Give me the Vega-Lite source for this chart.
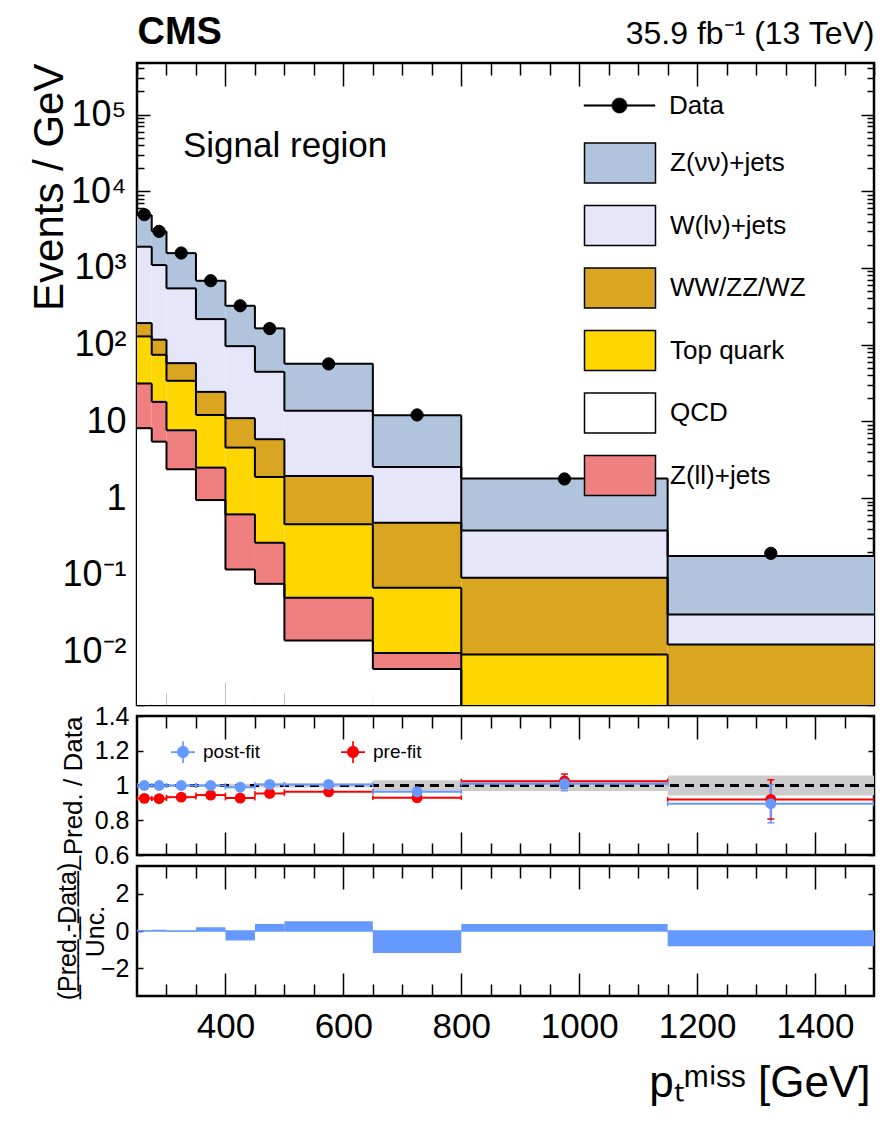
{
  "$schema": "https://vega.github.io/schema/vega-lite/v6.json",
  "background": "white",
  "autosize": {"type": "pad"},
  "padding": {"left": 26, "top": 11, "right": 20, "bottom": 20},
  "spacing": 11,
  "bounds": "flush",
  "resolve": {
    "scale": {"fill": "independent", "stroke": "independent"},
    "legend": {"fill": "independent", "stroke": "independent"}
  },
  "config": {
    "font": "Liberation Sans",
    "view": {"stroke": "black", "strokeWidth": 2.5},
    "axis": {
      "domain": false, "grid": false, "zindex": 1,
      "tickColor": "black", "tickWidth": 1.5,
      "labelColor": "black", "titleColor": "black",
      "labelFont": "Liberation Sans", "titleFont": "Liberation Sans",
      "titleFontWeight": "normal", "labelOverlap": false,
      "labelFlush": false, "labelBound": false, "labelLimit": 500
    },
    "legend": {"labelFont": "Liberation Sans", "labelColor": "black"}
  },
  "datasets": {
    "stack": [
      {"lo": 250, "hi": 275, "process": "Z(νν)+jets", "events": 3010},
      {"lo": 250, "hi": 275, "process": "W(lν)+jets", "events": 1699},
      {"lo": 250, "hi": 275, "process": "WW/ZZ/WZ", "events": 63},
      {"lo": 250, "hi": 275, "process": "Top quark", "events": 96.9},
      {"lo": 250, "hi": 275, "process": "Z(ll)+jets", "events": 23.0},
      {"lo": 250, "hi": 275, "process": "QCD", "events": 8.13},
      {"lo": 275, "hi": 300, "process": "Z(νν)+jets", "events": 1910},
      {"lo": 275, "hi": 300, "process": "W(lν)+jets", "events": 974},
      {"lo": 275, "hi": 300, "process": "WW/ZZ/WZ", "events": 42.4},
      {"lo": 275, "hi": 300, "process": "Top quark", "events": 55.7},
      {"lo": 275, "hi": 300, "process": "Z(ll)+jets", "events": 12.5},
      {"lo": 275, "hi": 300, "process": "QCD", "events": 5.43},
      {"lo": 300, "hi": 350, "process": "Z(νν)+jets", "events": 1019},
      {"lo": 300, "hi": 350, "process": "W(lν)+jets", "events": 484},
      {"lo": 300, "hi": 350, "process": "WW/ZZ/WZ", "events": 23.6},
      {"lo": 300, "hi": 350, "process": "Top quark", "events": 26.1},
      {"lo": 300, "hi": 350, "process": "Z(ll)+jets", "events": 5.27},
      {"lo": 300, "hi": 350, "process": "QCD", "events": 2.37},
      {"lo": 350, "hi": 400, "process": "Z(νν)+jets", "events": 465},
      {"lo": 350, "hi": 400, "process": "W(lν)+jets", "events": 191},
      {"lo": 350, "hi": 400, "process": "WW/ZZ/WZ", "events": 12.1},
      {"lo": 350, "hi": 400, "process": "Top quark", "events": 9.61},
      {"lo": 350, "hi": 400, "process": "Z(ll)+jets", "events": 1.55},
      {"lo": 350, "hi": 400, "process": "QCD", "events": 0.94},
      {"lo": 400, "hi": 450, "process": "Z(νν)+jets", "events": 225.5},
      {"lo": 400, "hi": 450, "process": "W(lν)+jets", "events": 84.5},
      {"lo": 400, "hi": 450, "process": "WW/ZZ/WZ", "events": 6.46},
      {"lo": 400, "hi": 450, "process": "Top quark", "events": 3.93},
      {"lo": 400, "hi": 450, "process": "Z(ll)+jets", "events": 0.495},
      {"lo": 400, "hi": 450, "process": "QCD", "events": 0.117},
      {"lo": 450, "hi": 500, "process": "Z(νν)+jets", "events": 118.8},
      {"lo": 450, "hi": 500, "process": "W(lν)+jets", "events": 38.4},
      {"lo": 450, "hi": 500, "process": "WW/ZZ/WZ", "events": 3.96},
      {"lo": 450, "hi": 500, "process": "Top quark", "events": 1.62},
      {"lo": 450, "hi": 500, "process": "Z(ll)+jets", "events": 0.185},
      {"lo": 450, "hi": 500, "process": "QCD", "events": 0.076},
      {"lo": 500, "hi": 650, "process": "Z(νν)+jets", "events": 42.8},
      {"lo": 500, "hi": 650, "process": "W(lν)+jets", "events": 11.76},
      {"lo": 500, "hi": 650, "process": "WW/ZZ/WZ", "events": 1.486},
      {"lo": 500, "hi": 650, "process": "Top quark", "events": 0.404},
      {"lo": 500, "hi": 650, "process": "Z(ll)+jets", "events": 0.0361},
      {"lo": 500, "hi": 650, "process": "QCD", "events": 0.0139},
      {"lo": 650, "hi": 800, "process": "Z(νν)+jets", "events": 9.46},
      {"lo": 650, "hi": 800, "process": "W(lν)+jets", "events": 2.064},
      {"lo": 650, "hi": 800, "process": "WW/ZZ/WZ", "events": 0.4085},
      {"lo": 650, "hi": 800, "process": "Top quark", "events": 0.058},
      {"lo": 650, "hi": 800, "process": "Z(ll)+jets", "events": 0.00365},
      {"lo": 650, "hi": 800, "process": "QCD", "events": 0.0059},
      {"lo": 800, "hi": 1150, "process": "Z(νν)+jets", "events": 1.422},
      {"lo": 800, "hi": 1150, "process": "W(lν)+jets", "events": 0.2868},
      {"lo": 800, "hi": 1150, "process": "WW/ZZ/WZ", "events": 0.0821},
      {"lo": 800, "hi": 1150, "process": "Top quark", "events": 0.0079},
      {"lo": 800, "hi": 1150, "process": "Z(ll)+jets", "events": 0.0008},
      {"lo": 800, "hi": 1150, "process": "QCD", "events": 0.0004},
      {"lo": 1150, "hi": 1500, "process": "Z(νν)+jets", "events": 0.1447},
      {"lo": 1150, "hi": 1500, "process": "W(lν)+jets", "events": 0.018},
      {"lo": 1150, "hi": 1500, "process": "WW/ZZ/WZ", "events": 0.0108},
      {"lo": 1150, "hi": 1500, "process": "Top quark", "events": 0.0012},
      {"lo": 1150, "hi": 1500, "process": "Z(ll)+jets", "events": 0.0002},
      {"lo": 1150, "hi": 1500, "process": "QCD", "events": 0.0001}
    ],
    "obs": [
      {"lo": 250, "hi": 275, "events": 4950},
      {"lo": 275, "hi": 300, "events": 3000},
      {"lo": 300, "hi": 350, "events": 1565},
      {"lo": 350, "hi": 400, "events": 681},
      {"lo": 400, "hi": 450, "events": 321},
      {"lo": 450, "hi": 500, "events": 162},
      {"lo": 500, "hi": 650, "events": 56},
      {"lo": 650, "hi": 800, "events": 12.1},
      {"lo": 800, "hi": 1150, "events": 1.77},
      {"lo": 1150, "hi": 1500, "events": 0.19}
    ],
    "notes": [{"label": "Signal region"}],
    "unity": [{"ratio": 1}],
    "ratio": [
      {"series": "pre-fit", "lo": 250, "hi": 275, "ratio": 0.926, "err": 0.003},
      {"series": "pre-fit", "lo": 275, "hi": 300, "ratio": 0.924, "err": 0.004},
      {"series": "pre-fit", "lo": 300, "hi": 350, "ratio": 0.933, "err": 0.004},
      {"series": "pre-fit", "lo": 350, "hi": 400, "ratio": 0.945, "err": 0.005},
      {"series": "pre-fit", "lo": 400, "hi": 450, "ratio": 0.928, "err": 0.008},
      {"series": "pre-fit", "lo": 450, "hi": 500, "ratio": 0.954, "err": 0.011},
      {"series": "pre-fit", "lo": 500, "hi": 650, "ratio": 0.964, "err": 0.011},
      {"series": "pre-fit", "lo": 650, "hi": 800, "ratio": 0.930, "err": 0.022},
      {"series": "pre-fit", "lo": 800, "hi": 1150, "ratio": 1.025, "err": 0.041},
      {"series": "pre-fit", "lo": 1150, "hi": 1500, "ratio": 0.92, "err": 0.113},
      {"series": "post-fit", "lo": 250, "hi": 275, "ratio": 1.0, "err": 0.003},
      {"series": "post-fit", "lo": 275, "hi": 300, "ratio": 1.0, "err": 0.004},
      {"series": "post-fit", "lo": 300, "hi": 350, "ratio": 1.0, "err": 0.004},
      {"series": "post-fit", "lo": 350, "hi": 400, "ratio": 1.0, "err": 0.005},
      {"series": "post-fit", "lo": 400, "hi": 450, "ratio": 0.99, "err": 0.008},
      {"series": "post-fit", "lo": 450, "hi": 500, "ratio": 1.006, "err": 0.011},
      {"series": "post-fit", "lo": 500, "hi": 650, "ratio": 1.006, "err": 0.011},
      {"series": "post-fit", "lo": 650, "hi": 800, "ratio": 0.964, "err": 0.023},
      {"series": "post-fit", "lo": 800, "hi": 1150, "ratio": 1.01, "err": 0.04},
      {"series": "post-fit", "lo": 1150, "hi": 1500, "ratio": 0.895, "err": 0.11}
    ],
    "band": [
      {"lo": 250, "hi": 275, "unc": 0.008},
      {"lo": 275, "hi": 300, "unc": 0.008},
      {"lo": 300, "hi": 350, "unc": 0.008},
      {"lo": 350, "hi": 400, "unc": 0.009},
      {"lo": 400, "hi": 450, "unc": 0.01},
      {"lo": 450, "hi": 500, "unc": 0.012},
      {"lo": 500, "hi": 650, "unc": 0.012},
      {"lo": 650, "hi": 800, "unc": 0.03},
      {"lo": 800, "hi": 1150, "unc": 0.031},
      {"lo": 1150, "hi": 1500, "unc": 0.057}
    ],
    "pull": [
      {"lo": 250, "hi": 275, "pull": 0.04},
      {"lo": 275, "hi": 300, "pull": 0.07},
      {"lo": 300, "hi": 350, "pull": -0.04},
      {"lo": 350, "hi": 400, "pull": 0.2},
      {"lo": 400, "hi": 450, "pull": -0.51},
      {"lo": 450, "hi": 500, "pull": 0.38},
      {"lo": 500, "hi": 650, "pull": 0.53},
      {"lo": 650, "hi": 800, "pull": -1.18},
      {"lo": 800, "hi": 1150, "pull": 0.38},
      {"lo": 1150, "hi": 1500, "pull": -0.82}
    ]
  },
  "vconcat": [
    {
      "width": 737,
      "height": 642,
      "layer": [
        {
          "data": {"name": "stack"},
          "transform": [
            {"calculate": "indexof(['QCD','Z(ll)+jets','Top quark','WW/ZZ/WZ','W(lν)+jets','Z(νν)+jets'], datum.process)", "as": "ord"},
            {"stack": "events", "groupby": ["lo"], "sort": [{"field": "ord", "order": "ascending"}], "as": ["s0", "s1"]},
            {"calculate": "max(datum.s0, 0.00001)", "as": "b0"}
          ],
          "mark": {"type": "rect", "clip": true},
          "encoding": {
            "x": {
              "field": "lo", "type": "quantitative",
              "scale": {"domain": [250, 1500], "nice": false, "zero": false},
              "axis": {
                "orient": "bottom", "labels": false, "title": null,
                "values": [300, 350, 400, 450, 500, 550, 600, 650, 700, 750, 800, 850, 900, 950, 1000, 1050, 1100, 1150, 1200, 1250, 1300, 1350, 1400, 1450],
                "tickSize": {"condition": {"test": "datum.value % 200 == 0", "value": -23}, "value": -12}
              }
            },
            "x2": {"field": "hi"},
            "y": {
              "field": "s1", "type": "quantitative",
              "scale": {"type": "log", "domain": [0.002, 470000], "nice": false},
              "axis": {
                "orient": "left",
                "values": [0.002, 0.003, 0.004, 0.005, 0.006, 0.007, 0.008, 0.009, 0.01, 0.02, 0.03, 0.04, 0.05, 0.06, 0.07, 0.08, 0.09, 0.1, 0.2, 0.3, 0.4, 0.5, 0.6, 0.7, 0.8, 0.9, 1, 2, 3, 4, 5, 6, 7, 8, 9, 10, 20, 30, 40, 50, 60, 70, 80, 90, 100, 200, 300, 400, 500, 600, 700, 800, 900, 1000, 2000, 3000, 4000, 5000, 6000, 7000, 8000, 9000, 10000, 20000, 30000, 40000, 50000, 60000, 70000, 80000, 90000, 100000, 200000, 300000, 400000],
                "labelExpr": "datum.value == 100000 ? '10⁵' : datum.value == 10000 ? '10⁴' : datum.value == 1000 ? '10³' : datum.value == 100 ? '10²' : datum.value == 10 ? '10' : datum.value == 1 ? '1' : datum.value == 0.1 ? '10⁻¹' : datum.value == 0.01 ? '10⁻²' : ''",
                "labelFontSize": 36, "labelPadding": 24, "labelBaseline": "middle",
                "tickSize": {"condition": {"test": "indexof([0.01,0.1,1,10,100,1000,10000,100000], datum.value) >= 0", "value": -13}, "value": -7},
                "title": "Events / GeV", "titleFontSize": 42, "titleAngle": -90,
                "titleAlign": "right", "titleBaseline": "alphabetic",
                "titleX": -75, "titleY": 0
              }
            },
            "y2": {"field": "b0"},
            "fill": {
              "field": "process", "type": "nominal",
              "scale": {
                "domain": ["Z(νν)+jets", "W(lν)+jets", "WW/ZZ/WZ", "Top quark", "QCD", "Z(ll)+jets"],
                "range": ["#b0c4de", "#e6e6fa", "#daa520", "#ffd700", "white", "#f08080"]
              },
              "legend": {
                "orient": "none", "legendX": 462, "legendY": 79, "padding": 0,
                "title": null, "symbolSize": 1600,
                "symbolType": "M-1.775,-1H1.775V1H-1.775Z",
                "symbolStrokeColor": "black", "symbolStrokeWidth": 1.5, "symbolOpacity": 1,
                "labelFontSize": 26, "labelOffset": 29, "rowPadding": 16.5
              }
            }
          }
        },
        {
          "data": {"name": "stack"},
          "transform": [
            {"calculate": "indexof(['QCD','Z(ll)+jets','Top quark','WW/ZZ/WZ','W(lν)+jets','Z(νν)+jets'], datum.process)", "as": "ord"},
            {"stack": "events", "groupby": ["lo"], "sort": [{"field": "ord", "order": "ascending"}], "as": ["s0", "s1"]}
          ],
          "mark": {"type": "rule", "clip": true, "color": "black", "strokeWidth": 2},
          "encoding": {
            "x": {"field": "lo", "type": "quantitative", "axis": null},
            "x2": {"field": "hi"},
            "y": {"field": "s1", "type": "quantitative", "axis": null}
          }
        },
        {
          "data": {"name": "stack"},
          "transform": [
            {"calculate": "indexof(['QCD','Z(ll)+jets','Top quark','WW/ZZ/WZ','W(lν)+jets','Z(νν)+jets'], datum.process)", "as": "ord"},
            {"stack": "events", "groupby": ["lo"], "sort": [{"field": "ord", "order": "ascending"}], "as": ["s0", "s1"]},
            {"window": [{"op": "lead", "field": "s1", "as": "s1n"}], "groupby": ["process"], "sort": [{"field": "lo", "order": "ascending"}]},
            {"filter": "datum.s1n != null"}
          ],
          "mark": {"type": "rule", "clip": true, "color": "black", "strokeWidth": 2},
          "encoding": {
            "x": {"field": "hi", "type": "quantitative", "axis": null},
            "y": {"field": "s1", "type": "quantitative", "axis": null},
            "y2": {"field": "s1n"}
          }
        },
        {
          "data": {"name": "obs"},
          "transform": [{"calculate": "(datum.lo + datum.hi) / 2", "as": "center"}],
          "mark": {"type": "circle", "size": 150, "color": "black", "opacity": 1, "strokeWidth": 1},
          "encoding": {
            "x": {
              "field": "center", "type": "quantitative",
              "axis": {
                "orient": "top", "title": null,
                "values": [250, 300, 350, 400, 450, 500, 550, 600, 650, 700, 750, 800, 850, 900, 950, 1000, 1050, 1100, 1150, 1200, 1250, 1300, 1350, 1400, 1450, 1500],
                "labelExpr": "datum.value == 250 ? 'CMS' : datum.value == 1500 ? '35.9 fb⁻¹ (13 TeV)' : ''",
                "labelAlign": {"condition": {"test": "datum.value == 250", "value": "left"}, "value": "right"},
                "labelFontWeight": {"condition": {"test": "datum.value == 250", "value": "bold"}, "value": "normal"},
                "labelFontSize": {"condition": {"test": "datum.value == 250", "value": 38}, "value": 32},
                "labelBaseline": "alphabetic", "labelPadding": 32,
                "tickSize": {"condition": {"test": "datum.value % 200 == 0", "value": -23}, "value": -12}
              }
            },
            "y": {
              "field": "events", "type": "quantitative",
              "axis": {
                "orient": "right", "labels": false, "title": null,
                "values": [0.002, 0.003, 0.004, 0.005, 0.006, 0.007, 0.008, 0.009, 0.01, 0.02, 0.03, 0.04, 0.05, 0.06, 0.07, 0.08, 0.09, 0.1, 0.2, 0.3, 0.4, 0.5, 0.6, 0.7, 0.8, 0.9, 1, 2, 3, 4, 5, 6, 7, 8, 9, 10, 20, 30, 40, 50, 60, 70, 80, 90, 100, 200, 300, 400, 500, 600, 700, 800, 900, 1000, 2000, 3000, 4000, 5000, 6000, 7000, 8000, 9000, 10000, 20000, 30000, 40000, 50000, 60000, 70000, 80000, 90000, 100000, 200000, 300000, 400000],
                "tickSize": {"condition": {"test": "indexof([0.01,0.1,1,10,100,1000,10000,100000], datum.value) >= 0", "value": -13}, "value": -7}
              }
            },
            "stroke": {
              "datum": "Data", "type": "nominal",
              "scale": {"domain": ["Data"], "range": ["black"]},
              "legend": {
                "orient": "none", "legendX": 462, "legendY": 22, "padding": 0,
                "title": null, "symbolSize": 1600,
                "symbolType": "M-1.775,-0.04H1.775V0.04H-1.775Z M0.38,0A0.38,0.38 0 1,1 -0.38,0A0.38,0.38 0 1,1 0.38,0Z",
                "symbolFillColor": "black", "symbolStrokeWidth": 0.5, "symbolOpacity": 1,
                "labelFontSize": 26, "labelOffset": 29
              }
            }
          }
        },
        {
          "data": {"name": "notes"},
          "mark": {"type": "text", "align": "left", "baseline": "middle", "fontSize": 35, "font": "Liberation Sans", "color": "black"},
          "encoding": {
            "x": {"datum": 328, "type": "quantitative", "axis": null},
            "y": {"datum": 39000, "type": "quantitative", "axis": null},
            "text": {"field": "label", "type": "nominal"}
          }
        }
      ],
      "resolve": {"axis": {"x": "independent", "y": "independent"}}
    },
    {
      "width": 737,
      "height": 139,
      "layer": [
        {
          "data": {"name": "band"},
          "transform": [
            {"calculate": "1 - datum.unc", "as": "blo"},
            {"calculate": "1 + datum.unc", "as": "bhi"}
          ],
          "mark": {"type": "rect", "color": "#cccccc", "clip": true},
          "encoding": {
            "x": {
              "field": "lo", "type": "quantitative",
              "scale": {"domain": [250, 1500], "nice": false, "zero": false},
              "axis": {
                "orient": "bottom", "labels": false, "title": null,
                "values": [300, 350, 400, 450, 500, 550, 600, 650, 700, 750, 800, 850, 900, 950, 1000, 1050, 1100, 1150, 1200, 1250, 1300, 1350, 1400, 1450],
                "tickSize": {"condition": {"test": "datum.value % 200 == 0", "value": -23}, "value": -12}
              }
            },
            "x2": {"field": "hi"},
            "y": {
              "field": "blo", "type": "quantitative",
              "scale": {"domain": [0.6, 1.4], "nice": false, "zero": false},
              "axis": {
                "orient": "left", "values": [0.6, 0.8, 1, 1.2, 1.4],
                "labelExpr": "datum.value == 1 ? '1' : format(datum.value, '.1f')",
                "labelFontSize": 25, "labelPadding": 14, "labelBaseline": "middle",
                "tickSize": -6,
                "title": "Pred. / Data", "titleFontSize": 26, "titleAngle": -90,
                "titleAlign": "center", "titleBaseline": "alphabetic",
                "titleX": -56, "titleY": 69.5
              }
            },
            "y2": {"field": "bhi"}
          }
        },
        {
          "data": {"name": "unity"},
          "mark": {"type": "rule", "color": "black", "strokeWidth": 3, "strokeDash": [9, 6]},
          "encoding": {"y": {"field": "ratio", "type": "quantitative", "axis": null}}
        },
        {
          "data": {"name": "ratio"},
          "mark": {"type": "rule", "strokeWidth": 2, "clip": true},
          "encoding": {
            "x": {"field": "lo", "type": "quantitative", "axis": null},
            "x2": {"field": "hi"},
            "y": {"field": "ratio", "type": "quantitative", "axis": null},
            "stroke": {"field": "series", "type": "nominal", "scale": {"domain": ["pre-fit", "post-fit"], "range": ["#ff0000", "#6699ff"]}, "legend": null}
          }
        },
        {
          "data": {"name": "ratio"},
          "transform": [
            {"fold": ["lo", "hi"], "as": ["edge", "ex"]},
            {"calculate": "datum.ratio - 0.014", "as": "clo"},
            {"calculate": "datum.ratio + 0.014", "as": "chi"}
          ],
          "mark": {"type": "rule", "strokeWidth": 1.5, "clip": true},
          "encoding": {
            "x": {"field": "ex", "type": "quantitative", "axis": null},
            "y": {"field": "clo", "type": "quantitative", "axis": null},
            "y2": {"field": "chi"},
            "stroke": {"field": "series", "type": "nominal", "legend": null}
          }
        },
        {
          "data": {"name": "ratio"},
          "transform": [
            {"calculate": "(datum.lo + datum.hi) / 2", "as": "center"},
            {"calculate": "datum.ratio - datum.err", "as": "elo"},
            {"calculate": "datum.ratio + datum.err", "as": "ehi"}
          ],
          "mark": {"type": "rule", "strokeWidth": 2, "clip": true},
          "encoding": {
            "x": {"field": "center", "type": "quantitative", "axis": null},
            "y": {"field": "elo", "type": "quantitative", "axis": null},
            "y2": {"field": "ehi"},
            "stroke": {"field": "series", "type": "nominal", "legend": null}
          }
        },
        {
          "data": {"name": "ratio"},
          "transform": [
            {"calculate": "(datum.lo + datum.hi) / 2", "as": "center"},
            {"calculate": "datum.ratio - datum.err", "as": "elo"},
            {"calculate": "datum.ratio + datum.err", "as": "ehi"},
            {"fold": ["elo", "ehi"], "as": ["end", "ey"]},
            {"calculate": "datum.center - 6", "as": "cx0"},
            {"calculate": "datum.center + 6", "as": "cx1"}
          ],
          "mark": {"type": "rule", "strokeWidth": 1.5, "clip": true},
          "encoding": {
            "x": {"field": "cx0", "type": "quantitative", "axis": null},
            "x2": {"field": "cx1"},
            "y": {"field": "ey", "type": "quantitative", "axis": null},
            "stroke": {"field": "series", "type": "nominal", "legend": null}
          }
        },
        {
          "data": {"name": "ratio"},
          "transform": [{"calculate": "(datum.lo + datum.hi) / 2", "as": "center"}],
          "mark": {"type": "circle", "size": 120, "opacity": 1},
          "encoding": {
            "x": {
              "field": "center", "type": "quantitative",
              "axis": {
                "orient": "top", "labels": false, "title": null,
                "values": [300, 350, 400, 450, 500, 550, 600, 650, 700, 750, 800, 850, 900, 950, 1000, 1050, 1100, 1150, 1200, 1250, 1300, 1350, 1400, 1450],
                "tickSize": {"condition": {"test": "datum.value % 200 == 0", "value": -23}, "value": -12}
              }
            },
            "y": {
              "field": "ratio", "type": "quantitative",
              "axis": {"orient": "right", "labels": false, "title": null, "values": [0.6, 0.8, 1, 1.2, 1.4], "tickSize": -6}
            },
            "fill": {
              "field": "series", "type": "nominal",
              "scale": {"domain": ["post-fit", "pre-fit"], "range": ["#6699ff", "#ff0000"]},
              "legend": {
                "orient": "none", "legendX": 34, "legendY": 24, "padding": 0,
                "direction": "horizontal", "columns": 2, "columnPadding": 80,
                "title": null, "symbolSize": 576, "symbolStrokeWidth": 0, "symbolOpacity": 1,
                "symbolType": "M-1,-0.07H1V0.07H-1Z M-0.07,-0.9H0.07V0.9H-0.07Z M0.5,0A0.5,0.5 0 1,1 -0.5,0A0.5,0.5 0 1,1 0.5,0Z",
                "labelFontSize": 19, "labelOffset": 8
              }
            }
          }
        }
      ],
      "resolve": {"axis": {"x": "independent", "y": "independent"}}
    },
    {
      "width": 737,
      "height": 130,
      "layer": [
        {
          "data": {"name": "pull"},
          "mark": {"type": "rect", "color": "#6699ff", "clip": true},
          "encoding": {
            "x": {
              "field": "lo", "type": "quantitative",
              "scale": {"domain": [250, 1500], "nice": false, "zero": false},
              "axis": {
                "orient": "bottom",
                "values": [300, 350, 400, 450, 500, 550, 600, 650, 700, 750, 800, 850, 900, 950, 1000, 1050, 1100, 1150, 1200, 1250, 1300, 1350, 1400, 1450],
                "labelExpr": "datum.value % 200 == 0 ? format(datum.value, 'd') : ''",
                "labelFontSize": 35, "labelBaseline": "top", "labelPadding": 36,
                "tickSize": {"condition": {"test": "datum.value % 200 == 0", "value": -23}, "value": -12},
                "title": "pₜᵐⁱˢˢ [GeV]", "titleFontSize": 44,
                "titleAlign": "right", "titleBaseline": "alphabetic", "titleAngle": 0,
                "titleX": 733, "titleY": 100
              }
            },
            "x2": {"field": "hi"},
            "y": {
              "field": "pull", "type": "quantitative",
              "scale": {"domain": [-3.5, 3.5], "nice": false, "zero": false},
              "axis": {
                "orient": "left", "values": [-2, 0, 2],
                "labelExpr": "datum.value < 0 ? '−' + format(-datum.value, 'd') : format(datum.value, 'd')",
                "labelFontSize": 25, "labelPadding": 14, "labelBaseline": "middle",
                "tickSize": -6,
                "title": ["(̲P̲r̲e̲d̲.̲-̲D̲a̲t̲a̲)̲", "Unc."], "titleFontSize": 25, "titleLineHeight": 28,
                "titleAngle": -90, "titleAlign": "center", "titleBaseline": "alphabetic",
                "titleX": -62, "titleY": 65
              }
            },
            "y2": {"datum": 0}
          }
        },
        {
          "data": {"name": "pull"},
          "mark": {"type": "rule", "color": "#6699ff", "strokeWidth": 1.5},
          "encoding": {
            "x": {
              "field": "lo", "type": "quantitative",
              "axis": {
                "orient": "top", "labels": false, "title": null,
                "values": [300, 350, 400, 450, 500, 550, 600, 650, 700, 750, 800, 850, 900, 950, 1000, 1050, 1100, 1150, 1200, 1250, 1300, 1350, 1400, 1450],
                "tickSize": {"condition": {"test": "datum.value % 200 == 0", "value": -23}, "value": -12}
              }
            },
            "x2": {"field": "hi"},
            "y": {
              "datum": 0, "type": "quantitative",
              "axis": {"orient": "right", "labels": false, "title": null, "values": [-2, 0, 2], "tickSize": -6}
            }
          }
        }
      ],
      "resolve": {"axis": {"x": "independent", "y": "independent"}}
    }
  ]
}
